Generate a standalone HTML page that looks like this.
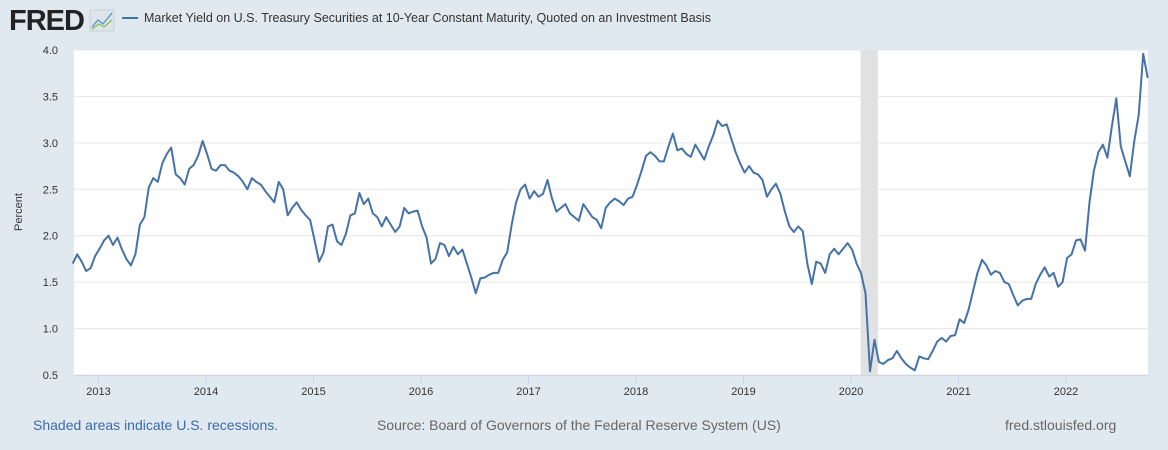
<!DOCTYPE html>
<html><head><meta charset="utf-8">
<style>
html,body{margin:0;padding:0;width:1168px;height:450px;background:#e1e9f0;overflow:hidden;font-family:"Liberation Sans",Arial,sans-serif}
svg{display:block}
</style></head>
<body>
<svg width="1168" height="450">
  <g>
    <text x="9" y="30" font-size="29" font-weight="bold" fill="#222" letter-spacing="-1" font-family="Liberation Sans, sans-serif">FRED</text>
    <rect x="90" y="10" width="24" height="21" fill="#dde4ea" stroke="#c8d0d8"/>
    <polyline points="92,27 98,20 103,24 112,13" fill="none" stroke="#6a9fd0" stroke-width="1.5"/>
    <polyline points="92,29 99,24 104,27 112,20" fill="none" stroke="#9ac06a" stroke-width="1.5"/>
  </g>
  <line x1="122" y1="18" x2="138" y2="18" stroke="#4572a7" stroke-width="2"/>
  <text x="144" y="22" font-size="12.5" fill="#333">Market Yield on U.S. Treasury Securities at 10-Year Constant Maturity, Quoted on an Investment Basis</text>
  <rect x="74" y="50" width="1074" height="325" fill="#fff"/>
  <g id="grid"></g>
  <g id="rec"></g>
  <g id="series"></g>
  <g id="axes"></g>
  <text x="22" y="212" font-size="11" fill="#333" text-anchor="middle" transform="rotate(-90 22 212)">Percent</text>
  <text x="33" y="430" font-size="14" fill="#3c6aaa">Shaded areas indicate U.S. recessions.</text>
  <text x="377" y="430" font-size="14" fill="#666">Source: Board of Governors of the Federal Reserve System (US)</text>
  <text x="1005" y="430" font-size="14" fill="#666">fred.stlouisfed.org</text>
</svg>
<script>
const yTicks=[0.5,1.0,1.5,2.0,2.5,3.0,3.5,4.0];
const xTicks=[2013,2014,2015,2016,2017,2018,2019,2020,2021,2022];
const recessions=[[2020.09,2020.25]];
const startYear=2012.76;
const step=1/24;
const values=[
1.70,1.80,1.72,1.62,1.65,1.78,
1.86,1.95,2.00,1.90,1.98,1.85,1.75,1.68,1.80,2.12,2.20,2.52,2.62,2.58,2.78,2.88,2.95,2.66,2.62,2.55,2.72,2.76,2.86,3.02,
2.88,2.72,2.70,2.76,2.76,2.70,2.68,2.64,2.58,2.50,2.62,2.58,2.55,2.48,2.42,2.36,2.58,2.50,2.22,2.30,2.36,2.28,2.22,2.17,
1.95,1.72,1.82,2.10,2.12,1.94,1.90,2.02,2.22,2.24,2.46,2.34,2.40,2.24,2.20,2.10,2.20,2.12,2.04,2.10,2.30,2.24,2.26,2.27,
2.10,1.98,1.70,1.75,1.92,1.90,1.78,1.88,1.80,1.85,1.70,1.55,1.38,1.54,1.55,1.58,1.60,1.60,1.74,1.82,2.12,2.36,2.50,2.55,
2.40,2.48,2.42,2.45,2.60,2.40,2.26,2.30,2.34,2.24,2.20,2.16,2.34,2.27,2.20,2.17,2.08,2.30,2.36,2.40,2.37,2.33,2.40,2.42,
2.55,2.70,2.86,2.90,2.86,2.80,2.80,2.96,3.10,2.92,2.94,2.88,2.85,2.98,2.90,2.82,2.96,3.08,3.24,3.18,3.20,3.05,2.90,2.78,
2.68,2.75,2.68,2.66,2.60,2.42,2.50,2.56,2.45,2.26,2.10,2.04,2.10,2.05,1.70,1.48,1.72,1.70,1.60,1.80,1.86,1.80,1.86,1.92,
1.85,1.70,1.60,1.38,0.54,0.88,0.64,0.62,0.66,0.68,0.76,0.68,0.62,0.58,0.55,0.70,0.68,0.67,0.76,0.86,0.90,0.86,0.92,0.93,
1.10,1.06,1.20,1.40,1.60,1.74,1.68,1.58,1.62,1.60,1.50,1.48,1.36,1.25,1.30,1.32,1.32,1.48,1.58,1.66,1.56,1.60,1.45,1.50,
1.76,1.80,1.95,1.96,1.84,2.36,2.70,2.90,2.98,2.84,3.18,3.48,2.96,2.80,2.64,3.02,3.30,3.96,3.70
];
const X0=74,X1=1148,Y0=375,Y1=50;
const xs=t=>851+(t-2020)*107.5;
const ys=v=>Y0-(v-0.5)/3.5*(Y0-Y1);
const NS="http://www.w3.org/2000/svg";
function mk(tag,attrs,parent){const e=document.createElementNS(NS,tag);for(const k in attrs)e.setAttribute(k,attrs[k]);parent.appendChild(e);return e;}
const grid=document.getElementById('grid'),axes=document.getElementById('axes'),rec=document.getElementById('rec'),ser=document.getElementById('series');
yTicks.forEach(v=>{
  const l=mk('line',{x1:X0,x2:X1,y1:ys(v),y2:ys(v),stroke:'#e6e6e6','stroke-width':1},grid);
  
  
  const t=mk('text',{x:58,y:ys(v)+4,'font-size':11,fill:'#333','text-anchor':'end'},axes);
  t.textContent=v.toFixed(1);
  
  
});
mk('line',{x1:X0,x2:X1,y1:Y0+0.5,y2:Y0+0.5,stroke:'#ccd6eb'},axes);
xTicks.forEach(y=>{
  const x=xs(y);
  mk('line',{x1:x,x2:x,y1:Y0,y2:Y0+9,stroke:'#ccd6eb'},axes);
  const t=mk('text',{x:x,y:395,'font-size':11,fill:'#333','text-anchor':'middle'},axes);
  t.textContent=y;
  
  
});
recessions.forEach(r=>{
  const e=mk('rect',{x:xs(r[0]),y:Y1,width:xs(r[1])-xs(r[0]),height:Y0-Y1,fill:'#e1e1e1'},rec);
  
  
});
let d='';
values.forEach((v,i)=>{const x=xs(startYear+i*step);d+=(i?'L':'M')+x.toFixed(1)+','+ys(v).toFixed(1);});
const p=mk('path',{d:d,fill:'none',stroke:'#4572a7','stroke-width':2,'stroke-linejoin':'round'},ser);


</script>
</body></html>
